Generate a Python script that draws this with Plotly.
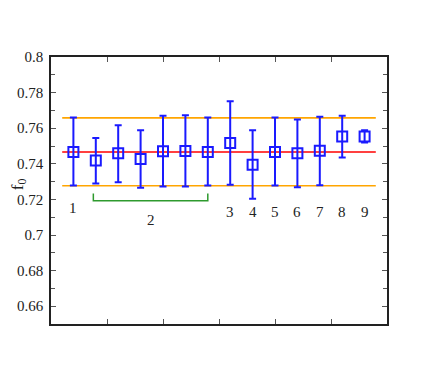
import plotly.graph_objects as go

# Data
x_pos = [1, 2, 3, 4, 5, 6, 7, 8, 9, 10, 11, 12, 13, 14]
f0 = [0.7466, 0.7418, 0.7459, 0.7427, 0.7470, 0.7472, 0.7466, 0.7517,
      0.7394, 0.7466, 0.7459, 0.7474, 0.7554, 0.7554]
err_plus = [0.0194, 0.0127, 0.0158, 0.0161, 0.0200, 0.0201, 0.0194, 0.0235,
            0.0194, 0.0194, 0.0190, 0.0190, 0.0116, 0.0035]
err_minus = [0.0188, 0.0129, 0.0163, 0.0162, 0.0198, 0.0200, 0.0188, 0.0235,
             0.0191, 0.0188, 0.0191, 0.0194, 0.0118, 0.0035]

mean_val = 0.7466
upper_val = 0.7658
lower_val = 0.7277
line_x = [0.5, 14.5]

bracket_x = [1.89, 1.89, 7.0, 7.0]
bracket_y = [0.7233, 0.7192, 0.7192, 0.7233]

group_labels = ["1", "2", "3", "4", "5", "6", "7", "8", "9"]
group_label_x = [1, 4.45, 8, 9, 10, 11, 12, 13, 14]
group_label_y = [0.7154, 0.7083, 0.7132, 0.7132, 0.7132, 0.7132, 0.7132, 0.7132, 0.7132]

y_tickvals = [0.66, 0.68, 0.70, 0.72, 0.74, 0.76, 0.78, 0.80]
y_ticktext = ["0.66", "0.68", "0.7", "0.72", "0.74", "0.76", "0.78", "0.8"]
x_tickvals = [2.5, 5, 7.5, 10, 12.5]

SERIF = "Liberation Serif, Times New Roman, Times, serif"

fig = go.Figure()

for yv, col in [(upper_val, "#ffa500"), (lower_val, "#ffa500"), (mean_val, "#ff0000")]:
    fig.add_trace(go.Scatter(x=line_x, y=[yv, yv], mode="lines",
                             line=dict(color=col, width=1.6), hoverinfo="skip"))

fig.add_trace(go.Scatter(x=bracket_x, y=bracket_y, mode="lines",
                         line=dict(color="#2e9a2e", width=1.5), hoverinfo="skip"))

fig.add_trace(go.Scatter(
    x=x_pos, y=f0, mode="markers",
    marker=dict(symbol="square-open", size=10, color="#1a1aff", line=dict(width=2, color="#1a1aff")),
    error_y=dict(type="data", symmetric=False, array=err_plus, arrayminus=err_minus,
                 color="#1a1aff", thickness=2, width=3.5),
))

for t, xx, yy in zip(group_labels, group_label_x, group_label_y):
    fig.add_annotation(x=xx, y=yy, text=t, showarrow=False, xref="x", yref="y",
                       font=dict(family=SERIF, size=15, color="#222"))

# y-axis title placed manually
fig.add_annotation(x=0, xref="x domain", xshift=-45, y=0.7285, yref="y",
                   text="f<sub>0</sub>", showarrow=False, textangle=-90,
                   font=dict(family=SERIF, size=17, color="#222"))

axis_common = dict(showline=True, linecolor="#222", linewidth=1.5, mirror="ticks",
                   ticks="inside", tickcolor="#555", tickwidth=1.2, showgrid=False,
                   zeroline=False, automargin=False)

fig.update_xaxes(range=[0, 15], tickvals=x_tickvals, showticklabels=False,
                 ticklen=5, **axis_common)
fig.update_yaxes(range=[0.65, 0.80], tickvals=y_tickvals, ticktext=y_ticktext,
                 ticklen=5, ticklabelstandoff=3,
                 minor=dict(dtick=0.01, tick0=0.65, ticks="inside", ticklen=4,
                            tickcolor="#555", tickwidth=1.2),
                 tickfont=dict(family=SERIF, size=15, color="#222"),
                 **axis_common)

fig.update_layout(width=436, height=382, showlegend=False,
                  plot_bgcolor="white", paper_bgcolor="white",
                  margin=dict(l=43, r=57, t=49, b=66))

fig.write_html("out.html")
